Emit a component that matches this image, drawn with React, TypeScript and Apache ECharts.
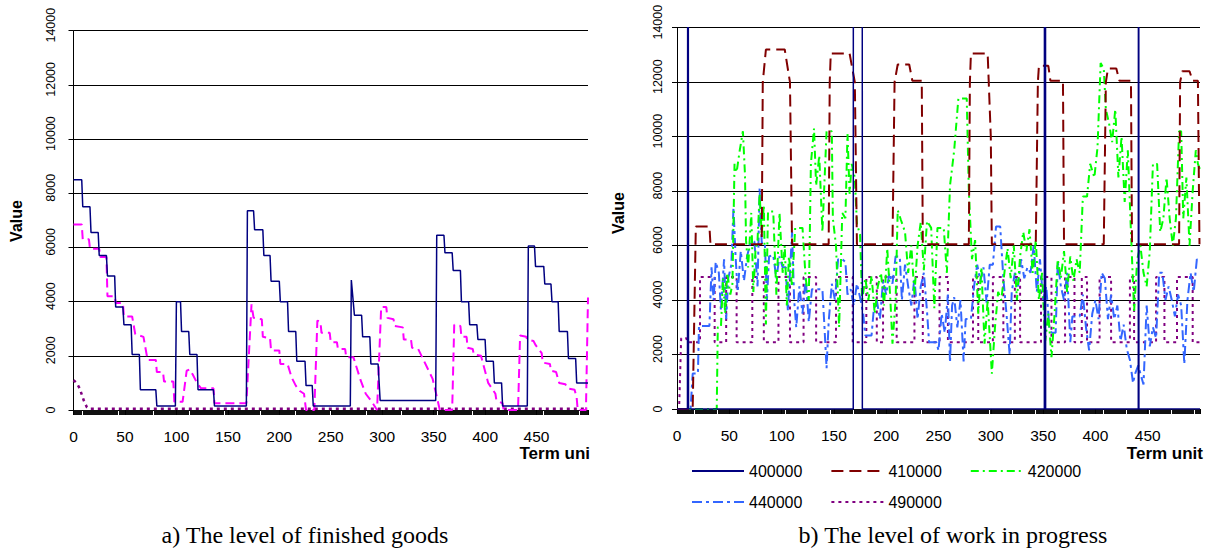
import React, { useEffect, useRef } from 'react';
import * as echarts from 'echarts';

// ---------- shared axis values ----------
const xMax = 500;
const xStep = 50;
const yMax = 14000;
const yStep = 2000;

// ---------- a) The level of finished goods ----------
// [from term, to term, level]
const fgNavyLevels: [number, number, number][] = [
  [0, 8, 8500], [9, 16, 7500], [17, 24, 6550], [25, 32, 5700], [33, 40, 4950], [41, 48, 3800],
  [49, 56, 3150], [57, 64, 2050], [65, 80, 750], [81, 99, 150], [100, 104, 4000], [105, 112, 2900],
  [113, 120, 2050], [121, 136, 750], [137, 168, 150], [169, 175, 7350], [176, 184, 6650], [185, 191, 5700],
  [192, 200, 4750], [201, 208, 4000], [209, 216, 2900], [217, 225, 1800], [226, 232, 900], [233, 269, 150],
  [270, 270, 4800], [273, 280, 3500], [281, 288, 2700], [289, 296, 1700], [298, 352, 350], [353, 360, 6450],
  [361, 368, 5800], [369, 376, 5150], [377, 384, 4000], [385, 392, 3150], [393, 400, 2600], [401, 408, 1800],
  [409, 416, 1000], [417, 441, 150], [442, 448, 6050], [449, 457, 5300], [458, 464, 4650], [465, 471, 4000],
  [472, 480, 2900], [481, 488, 1900], [489, 500, 1000],
];
const fgMagenta: [number, number][] = [
  [0, 6850], [8, 6850], [9, 6300], [15, 6300], [16, 5950], [25, 5950], [26, 5650], [32, 5650], [33, 4200],
  [40, 4200], [41, 3950], [48, 3950], [49, 3450], [57, 3450], [60, 2800], [68, 2700], [72, 1850], [80, 1850],
  [81, 1400], [87, 1400], [88, 1050], [97, 1050], [98, 300], [106, 300], [110, 1450], [113, 1500], [116, 1300],
  [120, 1000], [124, 800], [136, 800], [137, 250], [168, 250], [173, 3900], [175, 3400], [183, 3350],
  [184, 2700], [191, 2650], [192, 2200], [200, 2200], [201, 1700], [208, 1700], [212, 1200], [216, 900],
  [220, 700], [224, 600], [226, 0], [234, 0], [237, 3300], [240, 3250], [241, 2850], [249, 2850], [250, 2500],
  [256, 2500], [257, 2250], [264, 2250], [265, 1950], [272, 1950], [279, 1100], [284, 600], [290, 300],
  [295, 0], [299, 3800], [304, 3800], [305, 3400], [311, 3350], [312, 3100], [320, 3050], [321, 2600],
  [328, 2600], [329, 2300], [335, 2250], [349, 1150], [353, 500], [356, 0], [368, 0], [370, 3150], [376, 3100],
  [377, 2700], [382, 2700], [383, 2300], [388, 2250], [389, 2050], [396, 2000], [403, 1000], [410, 600],
  [411, 350], [417, 250], [418, 0], [432, 0], [434, 2750], [440, 2700], [441, 2600], [447, 2550], [449, 2400],
  [455, 2100], [456, 1750], [463, 1700], [464, 1450], [469, 1400], [472, 1000], [478, 950], [480, 800],
  [487, 750], [489, 450], [490, 0], [498, 0], [500, 4150],
];
const fgPurple: [number, number][] = [
  [0, 1100], [3, 1000], [6, 800], [10, 350], [13, 100], [15, 50], [500, 50],
];

// ---------- b) The level of work in progress ----------
const legendRow1 = ['400000', '410000', '420000'];
const legendRow2 = ['440000', '490000'];

const wip400000: [number, number][] = [
  [0, 0], [10, 0], [10.5, 40000], [11, 0], [168.5, 0], [168.7, 40000], [177, 40000], [177.2, 0],
  [351.2, 0], [351.4, 40000], [352.2, 40000], [352.4, 0], [441, 0], [441.3, 40000], [441.6, 0], [500, 0],
];
const wip410000: [number, number][] = [
  [0, 0], [15, 0], [18, 6700], [31, 6700], [32, 6050], [81, 6050], [82, 12000], [85, 13200], [103, 13200],
  [108, 12000], [110, 6050], [145, 6050], [146, 12000], [147, 13050], [165, 13050], [170, 12000], [172, 6050],
  [206, 6050], [208, 12000], [211, 12650], [222, 12650], [225, 12050], [234, 12050], [235, 6050], [279, 6050],
  [280, 12000], [281, 13050], [297, 13050], [300, 10000], [301, 6050], [343, 6050], [345, 12000], [346, 12600],
  [355, 12600], [357, 12050], [369, 12050], [370, 6050], [408, 6050], [410, 12000], [412, 12500], [420, 12500],
  [423, 12050], [434, 12050], [435, 6050], [480, 6050], [481, 12000], [483, 12400], [490, 12400], [493, 12050],
  [498, 12050], [499.5, 6050],
];
const wip420000: [number, number][] = [
  [0, 0], [38, 0], [39, 3000], [42, 3000], [44, 4800], [46, 3500], [48, 5000], [51, 4200], [53, 4600],
  [55, 9000], [57, 8700], [60, 9500], [63, 10200], [65, 8600], [66, 6200], [68, 5200], [71, 7200], [73, 4300],
  [75, 5800], [77, 6200], [79, 7900], [81, 6400], [83, 7500], [85, 3100], [87, 7250], [92, 7250], [95, 4200],
  [98, 7200], [101, 5000], [103, 6000], [105, 3800], [107, 5600], [110, 4500], [113, 6650], [120, 6650],
  [123, 4800], [126, 4000], [128, 9000], [131, 10300], [133, 8200], [136, 9300], [139, 6500], [143, 10200],
  [148, 10200], [149, 7000], [152, 6000], [155, 3000], [158, 7200], [161, 7000], [163, 10100], [165, 7900],
  [167, 9000], [170, 8500], [172, 6800], [175, 6400], [177, 4000], [180, 4800], [183, 4000], [186, 4900],
  [189, 3500], [192, 4500], [195, 5000], [198, 3800], [201, 5900], [204, 4000], [206, 2400], [209, 4000],
  [211, 7300], [214, 6950], [218, 6500], [221, 5000], [224, 6000], [227, 4200], [230, 6000], [233, 6850],
  [236, 5100], [239, 6900], [243, 6650], [246, 3700], [249, 6650], [255, 6650], [258, 5000], [261, 8200],
  [265, 9500], [269, 11400], [277, 11400], [279, 8000], [282, 5500], [285, 6200], [288, 3500], [291, 5200],
  [294, 2400], [297, 4000], [301, 1300], [304, 3000], [307, 4300], [310, 4000], [313, 5000], [316, 5900],
  [319, 4800], [322, 6000], [325, 4000], [328, 5600], [331, 6500], [334, 5800], [337, 6600], [340, 5000],
  [343, 6200], [346, 4000], [349, 5000], [352, 2500], [355, 3500], [358, 1900], [361, 3500], [364, 5500],
  [367, 4800], [370, 5800], [373, 4300], [376, 5600], [379, 4700], [382, 5500], [385, 5000], [388, 7800],
  [392, 7800], [395, 9000], [399, 8500], [402, 9600], [405, 12700], [408, 12500], [410, 11000], [413, 10500],
  [416, 9800], [419, 11000], [422, 8500], [425, 10000], [428, 7600], [431, 9500], [434, 6500], [437, 3600],
  [440, 5500], [443, 6000], [446, 5000], [449, 4500], [452, 5800], [455, 9000], [459, 9000], [462, 6500],
  [465, 7000], [468, 8500], [471, 7000], [474, 6000], [477, 7000], [480, 10200], [482, 10200], [484, 7000],
  [487, 8500], [490, 6000], [493, 8000], [496, 9500], [498, 9000], [500, 8800],
];
const wip440000: [number, number][] = [
  [0, 0], [13, 0], [15, 1300], [20, 1300], [21, 3050], [31, 3050], [33, 5200], [35, 4000], [37, 5400],
  [40, 5000], [42, 3600], [45, 5500], [47, 3300], [49, 4800], [52, 5300], [54, 7400], [56, 5600], [58, 4300],
  [61, 5800], [64, 4700], [67, 5600], [70, 6100], [74, 6150], [77, 4500], [79, 8100], [81, 6100], [84, 6100],
  [86, 4000], [88, 5600], [92, 5650], [95, 4800], [98, 5600], [101, 5200], [104, 5200], [106, 3600],
  [108, 5000], [110, 6500], [112, 4000], [114, 3000], [117, 4500], [120, 3500], [123, 4800], [126, 3200],
  [129, 4400], [136, 4400], [139, 4400], [141, 3000], [143, 1500], [145, 3200], [148, 4600], [151, 4000],
  [154, 5500], [158, 5500], [161, 5400], [163, 4200], [166, 4400], [169, 3800], [172, 4600], [175, 4100],
  [178, 3500], [180, 2700], [186, 2700], [188, 3600], [191, 4000], [194, 3300], [197, 4700], [200, 4200],
  [203, 5000], [206, 4600], [209, 5600], [213, 5600], [215, 4000], [218, 5300], [221, 4500], [224, 3800],
  [227, 4800], [230, 3300], [233, 4500], [236, 5000], [239, 3600], [241, 2450], [248, 2450], [250, 2150],
  [253, 3500], [256, 2800], [259, 4200], [261, 1700], [263, 3800], [265, 4100], [268, 3000], [271, 4000],
  [274, 1750], [276, 3300], [281, 3300], [284, 4500], [287, 5300], [290, 4700], [293, 5200], [296, 3900],
  [299, 5300], [302, 5300], [305, 6700], [309, 6700], [312, 4800], [315, 3500], [318, 2000], [320, 4300],
  [323, 5000], [326, 4500], [329, 5500], [332, 4800], [335, 5200], [338, 5000], [341, 6000], [344, 4300],
  [347, 5500], [350, 4000], [353, 4500], [356, 3000], [358, 2800], [362, 2800], [364, 5400], [367, 4500],
  [370, 4000], [373, 5000], [376, 2450], [378, 3400], [385, 3400], [388, 4200], [391, 3000], [394, 2150],
  [397, 3500], [400, 4000], [403, 3300], [406, 5000], [409, 4800], [412, 3300], [415, 4200], [418, 3300],
  [421, 3800], [424, 2500], [427, 3100], [430, 2200], [433, 1800], [436, 950], [438, 1300], [441, 1600],
  [443, 1300], [446, 900], [449, 3800], [452, 2300], [455, 3000], [458, 2600], [461, 5000], [464, 5000],
  [467, 4000], [470, 4500], [473, 4000], [476, 3400], [479, 4200], [482, 3800], [485, 1650], [488, 4000],
  [491, 5000], [494, 4300], [497, 5500], [500, 5400],
];
// 490000: start, then base level with pulses [from, to]
const wip490000Start: [number, number][] = [[0, 0], [2, 0], [4, 2600], [9, 2600], [10, 2450]];
const wip490000Base = 2450;
const wip490000Top = 4850;
const wip490000Pulses: [number, number][] = [
  [22, 36], [47, 57], [72, 83], [97, 108], [121, 133], [152, 168], [181, 191], [197, 210], [227, 235],
  [251, 259], [283, 288], [302, 312], [323, 328], [348, 358], [371, 380], [387, 392], [404, 415], [433, 437],
  [458, 466], [478, 493],
];

const FONT = '"Liberation Sans", Arial, sans-serif';

function levelsToPoints(levels: [number, number, number][]) {
  const pts: [number, number][] = [];
  levels.forEach(([s, e, v]) => {
    pts.push([s, v]);
    if (e !== s) pts.push([e, v]);
  });
  return pts;
}

function pulsesToPoints(start: [number, number][], pulses: [number, number][], base: number, top: number) {
  const pts: [number, number][] = [...start];
  pulses.forEach(([s, e]) => {
    pts.push([s, base], [s, top], [e, top], [e, base]);
  });
  pts.push([xMax, base]);
  return pts;
}

function xAxis(gridIndex: number) {
  return {
    type: 'value', gridIndex, min: 0, max: xMax, interval: xStep,
    axisLine: { show: true, onZero: false, lineStyle: { color: '#000', width: 1 } },
    axisTick: { show: true, length: 5, lineStyle: { color: '#000', width: 1 } },
    minorTick: { show: true, splitNumber: 50, length: 5, lineStyle: { color: '#111', width: 1 } },
    splitLine: { show: false },
    axisLabel: {
      color: '#000', fontSize: 15.5, fontFamily: FONT, margin: 18,
      formatter: (v: number) => (v >= xMax ? '' : String(v)),
    },
  };
}

function yAxis(gridIndex: number, margin: number) {
  return {
    type: 'value', gridIndex, min: 0, max: yMax, interval: yStep,
    axisLine: { show: true, lineStyle: { color: '#000', width: 1 } },
    axisTick: { show: true, length: 5, lineStyle: { color: '#000', width: 1 } },
    splitLine: { show: true, lineStyle: { color: '#000', width: 1 } },
    axisLabel: {
      color: '#000', fontSize: 12.5, fontFamily: FONT, rotate: 90, margin,
      formatter: (v: number) => (v === 0 ? '{z|0}' : `{n|${v}}`),
      rich: {
        z: { fontSize: 12.5, fontFamily: FONT, color: '#000' },
        n: { fontSize: 12.5, fontFamily: FONT, color: '#000', padding: [0, 0, 0, 11] },
      },
    },
  };
}

function line(name: string, data: [number, number][], color: string, width: number, type: any, idx: number, z = 2) {
  return {
    name, type: 'line', data, xAxisIndex: idx, yAxisIndex: idx, symbol: 'none', showSymbol: false,
    clip: true, z, lineStyle: { color, width, type }, itemStyle: { color }, emphasis: { disabled: true },
  };
}

export default function App() {
  const ref = useRef<HTMLDivElement>(null);
  useEffect(() => {
    if (!ref.current) return;
    const chart = echarts.init(ref.current, undefined, { renderer: 'svg' });
    const legendCommon = {
      orient: 'horizontal', itemWidth: 52, itemHeight: 14, itemGap: 28,
      itemStyle: { opacity: 0 },
      textStyle: { color: '#000', fontSize: 16, fontFamily: FONT },
    };
    chart.setOption({
      animation: false,
      backgroundColor: '#fff',
      grid: [
        { left: 73.5, top: 30.7, width: 514.5, height: 379.3 },
        { left: 677, top: 27.7, width: 523, height: 381.3 },
      ],
      xAxis: [xAxis(0), xAxis(1)],
      yAxis: [yAxis(0, 16), yAxis(1, 13)],
      legend: [
        { ...legendCommon, data: legendRow1, left: 686, top: 458 },
        { ...legendCommon, data: legendRow2, left: 686, top: 489 },
      ],
      series: [
        line('a-490000', fgPurple, '#800080', 2.5, [3, 4], 0, 2),
        line('a-magenta', fgMagenta, '#ff00ff', 2, [9, 5], 0, 3),
        line('a-400000', levelsToPoints(fgNavyLevels), '#000080', 1.5, 'solid', 0, 4),
        line('490000', pulsesToPoints(wip490000Start, wip490000Pulses, wip490000Base, wip490000Top), '#800080', 2, [3, 4], 1, 2),
        line('440000', wip440000, '#3366ff', 2, [10, 4, 3, 4], 1, 3),
        line('420000', wip420000, '#00ff00', 2, [8, 4, 2, 4], 1, 4),
        line('410000', wip410000, '#800000', 2, [12, 6], 1, 5),
        line('400000', wip400000, '#000080', 1.5, 'solid', 1, 6),
      ],
      graphic: [
        { type: 'text', x: 16.5, y: 221, rotation: Math.PI / 2,
          style: { text: 'Value', font: `bold 16px ${FONT}`, fill: '#000', textAlign: 'center', textVerticalAlign: 'middle', align: 'center', verticalAlign: 'middle' } },
        { type: 'text', x: 618, y: 213, rotation: Math.PI / 2,
          style: { text: 'Value', font: `bold 16px ${FONT}`, fill: '#000', textAlign: 'center', textVerticalAlign: 'middle', align: 'center', verticalAlign: 'middle' } },
        { type: 'text', x: 590, y: 453,
          style: { text: 'Term uni', font: `bold 17px ${FONT}`, fill: '#000', textAlign: 'right', textVerticalAlign: 'middle', align: 'right', verticalAlign: 'middle' } },
        { type: 'text', x: 1203, y: 453,
          style: { text: 'Term unit', font: `bold 17px ${FONT}`, fill: '#000', textAlign: 'right', textVerticalAlign: 'middle', align: 'right', verticalAlign: 'middle' } },
        { type: 'text', x: 305, y: 535,
          style: { text: 'a) The level of finished goods', font: `24px "Liberation Serif", "Times New Roman", serif`, fill: '#000', textAlign: 'center', textVerticalAlign: 'middle', align: 'center', verticalAlign: 'middle' } },
        { type: 'text', x: 953, y: 535,
          style: { text: 'b) The level of work in progress', font: `24px "Liberation Serif", "Times New Roman", serif`, fill: '#000', textAlign: 'center', textVerticalAlign: 'middle', align: 'center', verticalAlign: 'middle' } },
      ],
    });
    return () => chart.dispose();
  }, []);
  return <div ref={ref} style={{ position: 'fixed', left: 0, top: 0, width: 1211, height: 552, background: '#fff' }} />;
}
